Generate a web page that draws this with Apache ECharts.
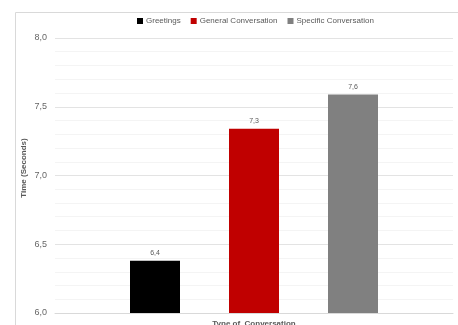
<!DOCTYPE html>
<html><head><meta charset="utf-8">
<script src="https://cdn.jsdelivr.net/npm/echarts@6/dist/echarts.min.js"></script>
<style>html,body{margin:0;padding:0;background:#fff}#c{width:458px;height:325px}</style>
</head><body><div id="c"></div>
<script>
var categories = ['Type of Conversation'];
var seriesNames = ['Greetings', 'General Conversation', 'Specific Conversation'];
var greetings = [6.38];
var generalConv = [7.34];
var specificConv = [7.59];
var yTicks = ['6,0', '6,5', '7,0', '7,5', '8,0'];
var yAxisTitle = 'Time (Seconds)';
var colors = ['#000000', '#c00000', '#808080'];
var values = [greetings, generalConv, specificConv];

var chart = echarts.init(document.getElementById('c'), null, {renderer: 'canvas'});
var fmt = function (v) { return v.toFixed(1).replace('.', ','); };
chart.setOption({
  animation: false,
  textStyle: {fontFamily: 'Liberation Sans, Arial, sans-serif'},
  graphic: [{
    type: 'rect', left: 13, top: 10, z: -1,
    shape: {width: 450, height: 320},
    style: {fill: 'none', stroke: '#d9d9d9', lineWidth: 1}
  }, {
    type: 'text', x: 24, y: 168, rotation: Math.PI / 2,
    style: {text: yAxisTitle, fill: '#595959', font: 'bold 8px Liberation Sans, Arial, sans-serif',
      align: 'center', verticalAlign: 'middle'}
  }],
  legend: {
    top: 12, left: 132, itemWidth: 6, itemHeight: 6, itemGap: 10,
    icon: 'rect',
    textStyle: {fontSize: 8, color: '#595959', padding: [0, 0, 0, -2]},
    data: seriesNames
  },
  grid: {left: 55, right: 5, top: 38, bottom: 12, outerBoundsMode: 'none', containLabel: false},
  xAxis: {
    type: 'category', data: categories,
    name: 'Type of  Conversation', nameLocation: 'middle', nameGap: 7,
    nameTextStyle: {fontSize: 8, fontWeight: 'bold', color: '#595959'},
    axisLine: {lineStyle: {color: '#d9d9d9'}},
    axisTick: {show: false}, axisLabel: {show: false}
  },
  yAxis: {
    type: 'value', min: 6, max: 8, interval: 0.5,
    axisLine: {show: false}, axisTick: {show: false},
    axisLabel: {fontSize: 9, color: '#666666', margin: 8,
      formatter: function (v) { return yTicks[Math.round((v - 6) / 0.5)]; }},
    splitLine: {lineStyle: {color: '#e3e3e3'}},
    minorTick: {show: false, splitNumber: 5},
    minorSplitLine: {show: true, lineStyle: {color: '#f4f4f4'}}
  },
  series: seriesNames.map(function (n, i) {
    return {
      name: n, type: 'bar', data: values[i], barWidth: 50, barGap: '98%',
      itemStyle: {color: colors[i]},
      label: {show: true, position: 'top', fontSize: 7, color: '#595959', distance: 4,
        formatter: function (p) { return fmt(p.value); }}
    };
  })
});
</script></body></html>
